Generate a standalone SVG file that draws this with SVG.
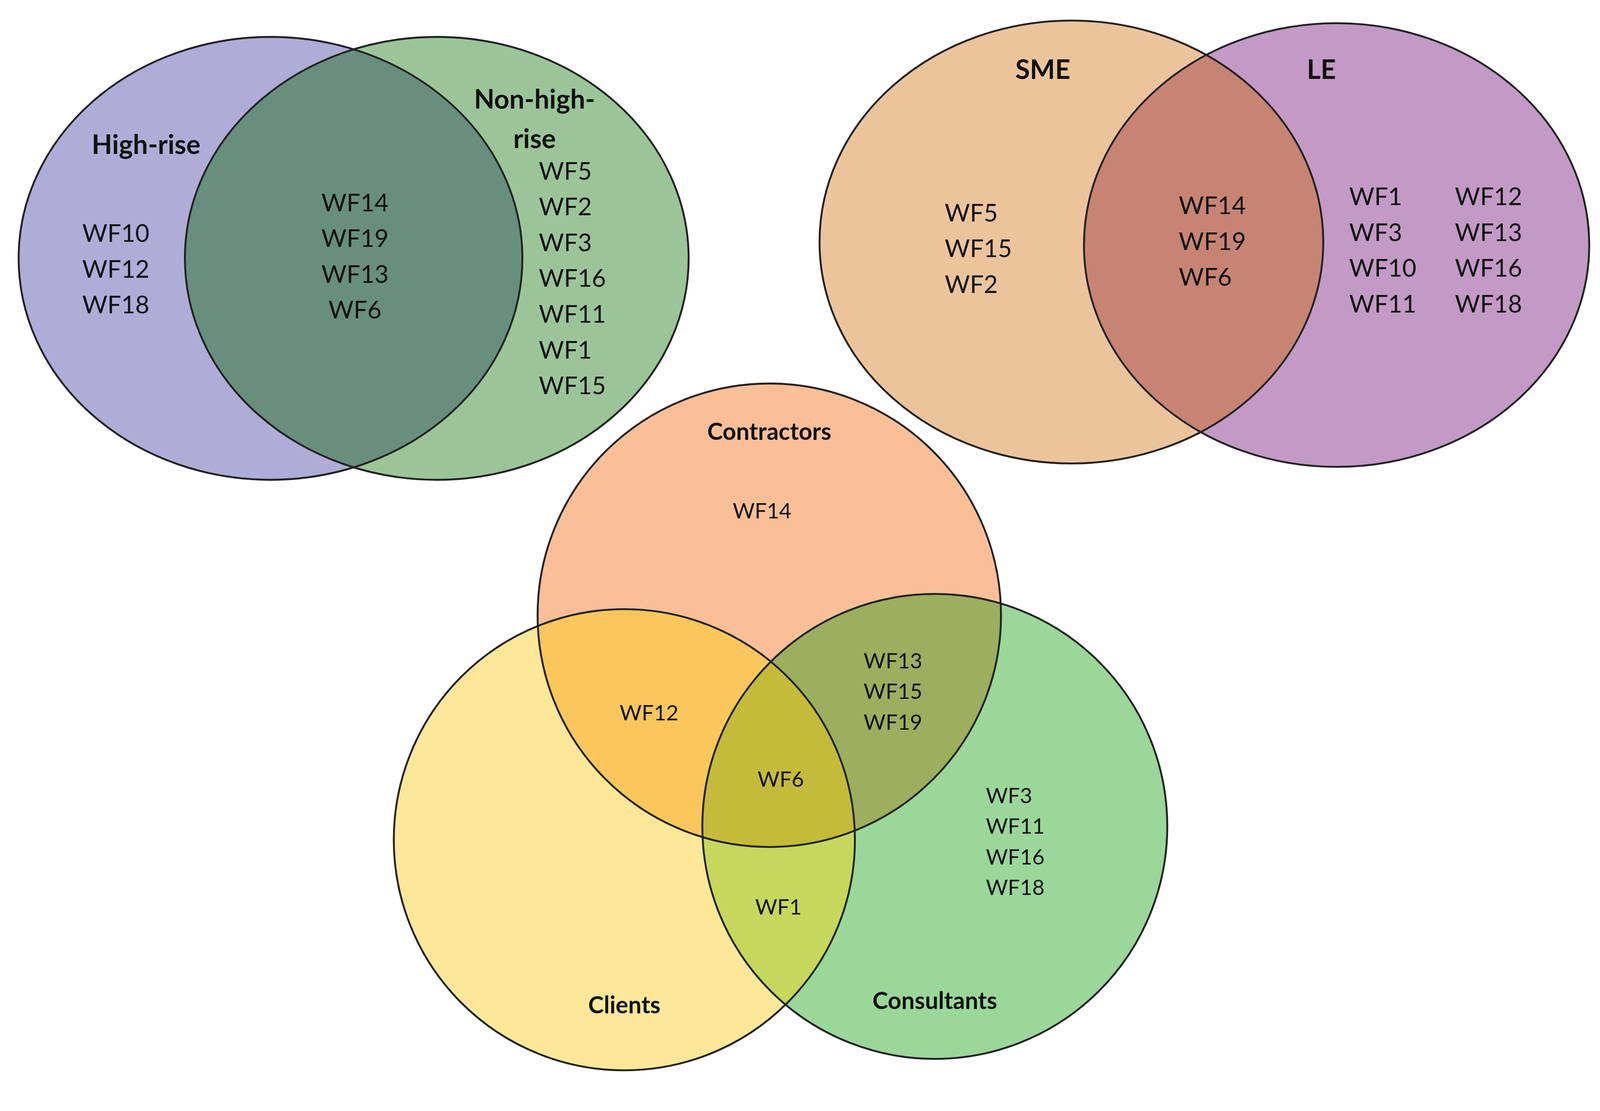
<svg xmlns="http://www.w3.org/2000/svg" width="4205" height="2844" viewBox="0 0 4205 2844">
<style>
.s{fill:none;stroke:#222;stroke-width:5}
text{font-family:Lato,"Liberation Sans",sans-serif;fill:#111}
.t{font-size:64px}
.u{font-size:56px}
.b{font-weight:bold;font-size:70px}
.c{font-weight:bold;font-size:62px}
.m{text-anchor:middle}
</style>
<defs>
<clipPath id="cHR"><ellipse cx="711" cy="679" rx="662" ry="582"/></clipPath>
<clipPath id="cSME"><ellipse cx="2816" cy="636" rx="662" ry="582"/></clipPath>
<clipPath id="cCo"><circle cx="2022" cy="1617" r="609"/></clipPath>
<clipPath id="cCl"><circle cx="1641" cy="2207" r="606"/></clipPath>
</defs>
<rect width="4205" height="2844" fill="#fff"/>
<g transform="scale(0.974)">
<g id="venn-building">
<ellipse cx="711" cy="679" rx="662" ry="582" fill="#b0acd8"/>
<ellipse cx="1148" cy="679" rx="662" ry="582" fill="#9bc599"/>
<ellipse cx="1148" cy="679" rx="662" ry="582" fill="#688f7e" clip-path="url(#cHR)"/>
<ellipse class="s" cx="711" cy="679" rx="662" ry="582"/>
<ellipse class="s" cx="1148" cy="679" rx="662" ry="582"/>
<text class="b m" x="384" y="405">High-rise</text>
<text class="b m" x="1405" y="285">Non-high-</text>
<text class="b m" x="1405" y="389">rise</text>
<text class="t" x="216" y="636">WF10</text><text class="t" x="216" y="730">WF12</text><text class="t" x="216" y="823">WF18</text>
<text class="t m" x="933" y="555">WF14</text><text class="t m" x="933" y="649">WF19</text><text class="t m" x="933" y="743">WF13</text><text class="t m" x="933" y="837">WF6</text>
<text class="t" x="1416" y="472">WF5</text><text class="t" x="1416" y="566">WF2</text><text class="t" x="1416" y="660">WF3</text><text class="t" x="1416" y="754">WF16</text><text class="t" x="1416" y="848">WF11</text><text class="t" x="1416" y="942">WF1</text><text class="t" x="1416" y="1036">WF15</text>
</g>
<g id="venn-size">
<ellipse cx="2816" cy="636" rx="662" ry="582" fill="#ecc49c"/>
<ellipse cx="3513" cy="644" rx="664" ry="583" fill="#c39ac5"/>
<ellipse cx="3513" cy="644" rx="664" ry="583" fill="#c88473" clip-path="url(#cSME)"/>
<ellipse class="s" cx="2816" cy="636" rx="662" ry="582"/>
<ellipse class="s" cx="3513" cy="644" rx="664" ry="583"/>
<text class="b m" x="2741" y="207">SME</text>
<text class="b m" x="3473" y="207">LE</text>
<text class="t" x="2483" y="582">WF5</text><text class="t" x="2483" y="676">WF15</text><text class="t" x="2483" y="770">WF2</text>
<text class="t" x="3098" y="563">WF14</text><text class="t" x="3098" y="657">WF19</text><text class="t" x="3098" y="751">WF6</text>
<text class="t" x="3546" y="539">WF1</text><text class="t" x="3546" y="633">WF3</text><text class="t" x="3546" y="727">WF10</text><text class="t" x="3546" y="821">WF11</text>
<text class="t" x="3824" y="539">WF12</text><text class="t" x="3824" y="633">WF13</text><text class="t" x="3824" y="727">WF16</text><text class="t" x="3824" y="821">WF18</text>
</g>
<g id="venn-role">
<circle cx="2022" cy="1617" r="609" fill="#fbbf98"/>
<circle cx="1641" cy="2207" r="606" fill="#fde899"/>
<circle cx="2457" cy="2172" r="611" fill="#9bd799"/>
<circle cx="1641" cy="2207" r="606" fill="#fbc75c" clip-path="url(#cCo)"/>
<circle cx="2457" cy="2172" r="611" fill="#9caf5e" clip-path="url(#cCo)"/>
<circle cx="2457" cy="2172" r="611" fill="#c5d85c" clip-path="url(#cCl)"/>
<g clip-path="url(#cCo)"><circle cx="2457" cy="2172" r="611" fill="#c4bb3a" clip-path="url(#cCl)"/></g>
<circle class="s" cx="2022" cy="1617" r="609"/>
<circle class="s" cx="1641" cy="2207" r="606"/>
<circle class="s" cx="2457" cy="2172" r="611"/>
<text class="c m" x="2022" y="1156">Contractors</text>
<text class="c m" x="1641" y="2663">Clients</text>
<text class="c m" x="2457" y="2652">Consultants</text>
<text class="u m" x="2003" y="1362">WF14</text>
<text class="u m" x="1706" y="1893">WF12</text>
<text class="u m" x="2347" y="1757">WF13</text><text class="u m" x="2347" y="1837">WF15</text><text class="u m" x="2347" y="1918">WF19</text>
<text class="u m" x="2052" y="2068">WF6</text>
<text class="u m" x="2046" y="2403">WF1</text>
<text class="u" x="2591" y="2111">WF3</text><text class="u" x="2591" y="2191">WF11</text><text class="u" x="2591" y="2272">WF16</text><text class="u" x="2591" y="2352">WF18</text>
</g>
</g>
</svg>
